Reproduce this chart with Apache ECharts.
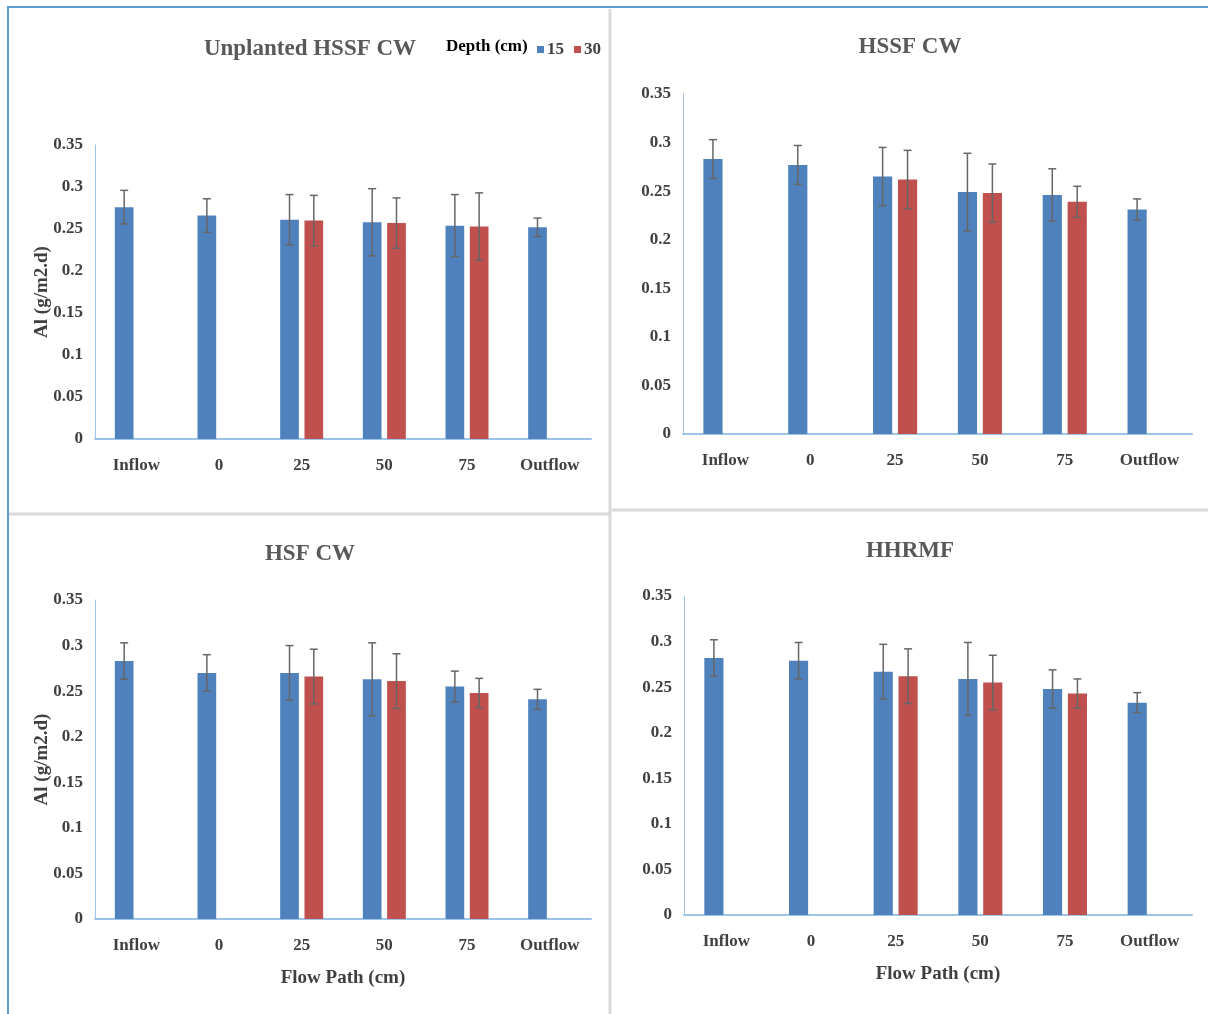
<!DOCTYPE html>
<html><head><meta charset="utf-8">
<script src="https://cdn.jsdelivr.net/npm/echarts@6/dist/echarts.min.js"></script>
<style>html,body{margin:0;padding:0;background:#fff}#c{width:1208px;height:1014px}</style>
</head><body><div id="c"></div><script>
// ---- data ----
const categories = ['Inflow', '0', '25', '50', '75', 'Outflow'];
const panelTitles = ['Unplanted HSSF CW', 'HSSF CW', 'HSF CW', 'HHRMF'];
const seriesNames = ['15', '30'];
const yMin = 0, yMax = 0.35, yStep = 0.05;

const unplanted15 = [0.276, 0.266, 0.261, 0.258, 0.254, 0.252];
const unplanted30 = [null, null, 0.260, 0.257, 0.253, null];
const unplanted15Err = [0.020, 0.020, 0.030, 0.040, 0.037, 0.011];
const unplanted30Err = [null, null, 0.030, 0.030, 0.040, null];

const hssf15 = [0.283, 0.277, 0.265, 0.249, 0.246, 0.231];
const hssf30 = [null, null, 0.262, 0.248, 0.239, null];
const hssf15Err = [0.020, 0.020, 0.030, 0.040, 0.027, 0.011];
const hssf30Err = [null, null, 0.030, 0.030, 0.016, null];

const hsf15 = [0.283, 0.270, 0.270, 0.263, 0.255, 0.241];
const hsf30 = [null, null, 0.266, 0.261, 0.248, null];
const hsf15Err = [0.020, 0.020, 0.030, 0.040, 0.017, 0.011];
const hsf30Err = [null, null, 0.030, 0.030, 0.016, null];

const hhrmf15 = [0.282, 0.279, 0.267, 0.259, 0.248, 0.233];
const hhrmf30 = [null, null, 0.262, 0.255, 0.243, null];
const hhrmf15Err = [0.020, 0.020, 0.030, 0.040, 0.021, 0.011];
const hhrmf30Err = [null, null, 0.030, 0.030, 0.016, null];

const panelValues = [[unplanted15, unplanted30], [hssf15, hssf30], [hsf15, hsf30], [hhrmf15, hhrmf30]];
const panelErrors = [[unplanted15Err, unplanted30Err], [hssf15Err, hssf30Err], [hsf15Err, hsf30Err], [hhrmf15Err, hhrmf30Err]];

// ---- layout / style ----
const FONT = '"Liberation Serif", "Times New Roman", serif';
const colors = ['#4F81BD', '#C0504D'];
const grids = [
  {left: 95, top: 145, width: 496, height: 294},
  {left: 683, top: 94, width: 509, height: 340},
  {left: 95, top: 600, width: 496, height: 319},
  {left: 684, top: 596, width: 508, height: 319}
];
const titlePos = [[310, 38], [910, 36], [310, 543], [910, 540]];
const CAT_GAP = 0.48, BAR_GAP = 0.30;

function errRender(params, api) {
  const cat = api.value(0), lo = api.value(1), hi = api.value(2), s = api.value(3);
  const band = api.size([1, 0])[0];
  const usable = band * (1 - CAT_GAP);
  const w = usable / (2 + BAR_GAP);
  const off = s === 0 ? -usable / 2 + w / 2 : usable / 2 - w / 2;
  const pHi = api.coord([cat, hi]);
  const pLo = api.coord([cat, lo]);
  const x = pHi[0] + off, cap = 4;
  const style = {stroke: '#666666', lineWidth: 1.5};
  return {type: 'group', children: [
    {type: 'line', shape: {x1: x, y1: pHi[1], x2: x, y2: pLo[1]}, style: style},
    {type: 'line', shape: {x1: x - cap, y1: pHi[1], x2: x + cap, y2: pHi[1]}, style: style},
    {type: 'line', shape: {x1: x - cap, y1: pLo[1], x2: x + cap, y2: pLo[1]}, style: style}
  ]};
}

const xAxes = [], yAxes = [], series = [], titles = [];
grids.forEach((g, gi) => {
  titles.push({
    text: panelTitles[gi], left: titlePos[gi][0], top: titlePos[gi][1], textAlign: 'center', padding: 0,
    textStyle: {fontFamily: FONT, fontWeight: 'bold', fontSize: 23, color: '#595959'}
  });
  xAxes.push({
    type: 'category', gridIndex: gi, data: categories,
    axisTick: {show: false},
    axisLine: {show: true, lineStyle: {color: '#9DC3E6', width: 2}},
    axisLabel: {interval: 0, margin: 18, fontFamily: FONT, fontWeight: 'bold', fontSize: 17, color: '#404040'},
    name: gi >= 2 ? 'Flow Path (cm)' : '', nameLocation: 'middle', nameGap: 50,
    nameTextStyle: {fontFamily: FONT, fontWeight: 'bold', fontSize: 19, color: '#404040'}
  });
  yAxes.push({
    type: 'value', gridIndex: gi, min: yMin, max: yMax, interval: yStep,
    splitLine: {show: false}, axisTick: {show: false},
    axisLine: {show: true, lineStyle: {color: '#9DC3E6', width: 1}},
    axisLabel: {margin: 12, fontFamily: FONT, fontWeight: 'bold', fontSize: 17, color: '#404040'},
    name: (gi === 0 || gi === 2) ? 'Al (g/m2.d)' : '', nameLocation: 'middle', nameGap: 43,
    nameMoveOverlap: false,
    nameTextStyle: {fontFamily: FONT, fontWeight: 'bold', fontSize: 19, color: '#404040'}
  });
  const errData = [];
  seriesNames.forEach((nm, si) => {
    series.push({
      type: 'bar', name: nm, xAxisIndex: gi, yAxisIndex: gi,
      data: panelValues[gi][si], barGap: (BAR_GAP * 100) + '%', barCategoryGap: (CAT_GAP * 100) + '%',
      itemStyle: {color: colors[si]}, emphasis: {disabled: true}
    });
    panelValues[gi][si].forEach((v, i) => {
      const e = panelErrors[gi][si][i];
      if (v != null && e != null) errData.push([i, v - e, v + e, si]);
    });
  });
  series.push({
    type: 'custom', xAxisIndex: gi, yAxisIndex: gi, renderItem: errRender,
    data: errData, encode: {x: 0, y: [1, 2]}, z: 10, silent: true
  });
});

const chart = echarts.init(document.getElementById('c'), null, {renderer: 'canvas'});
chart.setOption({
  backgroundColor: '#ffffff',
  animation: false,
  title: titles,
  legend: {
    data: seriesNames, left: 537, top: 41, icon: 'rect', itemWidth: 7, itemHeight: 7, itemGap: 10,
    padding: 0,
    textStyle: {fontFamily: FONT, fontWeight: 'bold', fontSize: 17, color: '#404040', padding: [0, 0, 0, -2]}
  },
  grid: grids,
  xAxis: xAxes,
  yAxis: yAxes,
  series: series,
  graphic: [
    {type: 'line', silent: true, shape: {x1: 7, y1: 7, x2: 1208, y2: 7}, style: {stroke: '#5B9BD5', lineWidth: 2}},
    {type: 'line', silent: true, shape: {x1: 8, y1: 7, x2: 8, y2: 1014}, style: {stroke: '#5B9BD5', lineWidth: 2}},
    {type: 'line', silent: true, shape: {x1: 610, y1: 9, x2: 610, y2: 1014}, style: {stroke: '#D9D9D9', lineWidth: 3}},
    {type: 'line', silent: true, shape: {x1: 9, y1: 514, x2: 609, y2: 514}, style: {stroke: '#D9D9D9', lineWidth: 3}},
    {type: 'line', silent: true, shape: {x1: 612, y1: 510, x2: 1208, y2: 510}, style: {stroke: '#D9D9D9', lineWidth: 3}},
    {type: 'text', silent: true, left: 446, top: 38,
      style: {text: 'Depth (cm)', fill: '#000000', font: 'bold 17px ' + FONT}}
  ]
});
</script></body></html>
